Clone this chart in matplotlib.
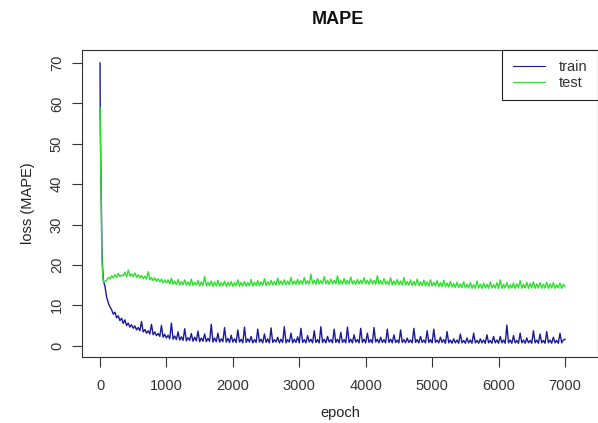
import numpy as np
import matplotlib
matplotlib.use("Agg")
from matplotlib import pyplot as plt

plt.rc('font', family=['Liberation Sans', 'DejaVu Sans'])

# epochs: dense at the start, then every 25 epochs
early_epochs = [1, 3, 6, 9, 12, 15, 18, 21, 25, 30, 40, 50, 60, 75]
train_early = [70, 58, 52, 49, 45, 41, 38, 33, 26, 23, 19, 16.5, 15.5, 14.7]
test_early = [59, 56, 50, 46, 42, 38, 34, 30, 25, 21, 17.5, 16.0, 15.6, 15.9]

late_epochs = np.arange(100, 7001, 25)
train_late = [
    12.0, 10.6, 9.6, 8.9, 7.8, 8.3, 6.9, 7.4, 6.2, 6.8, 5.5, 6.4, 5.0, 5.6, 4.6, 5.2, 4.3, 4.9, 3.9, 4.5,
    3.7, 6.0, 3.4, 4.0, 3.1, 3.7, 2.9, 5.3, 2.7, 3.4, 2.5, 3.0, 2.3, 5.0, 2.1, 2.8,
    1.9, 2.6, 1.7, 5.6, 1.6, 2.4, 1.5, 3.4, 1.4, 2.2, 1.3, 4.2, 1.2, 2.0, 1.3, 3.0, 1.1, 2.1, 1.2, 3.6,
    1.0, 1.9, 1.1, 2.9, 1.0, 1.8, 1.1, 5.3, 0.9, 1.9, 1.0, 3.1, 0.9, 1.7, 1.0, 4.5, 0.9, 1.8, 0.8, 2.6,
    0.9, 1.7, 0.8, 3.9, 0.9, 1.6, 0.7, 4.6, 0.8, 1.7, 0.9, 2.3, 0.7, 1.5, 0.8, 4.1, 0.9, 1.6, 0.7, 2.9,
    0.8, 1.7, 0.7, 4.4, 0.8, 1.5, 0.9, 2.1, 0.7, 1.6, 0.8, 4.7, 0.7, 1.5, 0.9, 3.1, 0.7, 1.6, 0.8, 2.2,
    0.7, 4.3, 0.8, 1.5, 0.7, 2.5, 0.9, 1.6, 0.7, 3.7, 0.8, 1.5, 0.7, 4.7, 0.8, 1.6, 0.7, 2.3, 0.9, 1.5,
    0.7, 4.1, 0.8, 1.6, 0.7, 3.3, 0.8, 1.5, 0.7, 4.6, 0.8, 1.6, 0.7, 2.7, 0.9, 1.5, 0.7, 4.3, 0.8, 1.6,
    0.7, 3.1, 0.8, 1.5, 0.7, 4.5, 0.9, 1.6, 0.7, 2.1, 0.8, 1.5, 0.7, 4.1, 0.8, 1.6, 0.7, 2.7, 0.8, 1.4,
    0.7, 3.9, 0.8, 1.5, 0.7, 1.9, 0.8, 1.4, 0.7, 4.3, 0.8, 1.5, 0.7, 2.3, 0.8, 1.4, 0.7, 3.7, 0.8, 1.5,
    0.7, 4.1, 0.8, 1.4, 0.7, 2.1, 0.8, 1.5, 0.6, 3.5, 0.7, 1.4, 0.6, 1.7, 0.7, 1.4, 0.6, 2.9, 0.7, 1.3,
    0.6, 1.9, 0.7, 1.4, 0.6, 3.1, 0.7, 1.3, 0.6, 1.7, 0.7, 1.4, 0.6, 2.7, 0.7, 1.3, 0.6, 2.3, 0.7, 1.4,
    0.6, 2.3, 0.7, 1.4, 0.6, 5.1, 0.7, 1.4, 0.6, 2.5, 0.7, 1.3, 0.6, 3.1, 0.7, 1.4, 0.6, 1.9, 0.7, 1.3,
    0.6, 3.7, 0.7, 1.4, 0.6, 2.9, 0.7, 1.3, 0.6, 3.5, 0.7, 1.4, 0.6, 2.1, 0.7, 1.3, 0.6, 3.1, 0.7, 1.4,
    1.6]
test_late = [
    16.2, 16.9, 16.5, 17.3, 16.8, 17.6, 16.9, 17.9, 17.1, 17.5, 17.3, 18.2, 17.0, 18.7, 17.2, 17.8, 17.1, 18.0, 16.9, 17.6,
    16.8, 17.4, 16.6, 17.2, 16.5, 18.3, 16.3, 16.9, 16.1, 16.8, 15.9, 16.6, 15.8, 16.5, 15.6, 16.3,
    15.5, 16.3, 15.3, 16.7, 15.2, 16.0, 15.1, 16.4, 15.0, 15.9, 15.1, 16.3, 15.0, 15.8, 14.9, 16.5, 14.9, 15.7, 15.0, 16.1,
    14.8, 15.8, 14.9, 17.1, 14.8, 15.7, 14.8, 16.0, 14.7, 15.8, 14.8, 16.2, 14.7, 15.6, 14.8, 16.0, 14.7, 15.7, 14.8, 15.9,
    14.7, 15.6, 14.8, 16.3, 14.7, 15.7, 14.8, 15.9, 14.7, 15.6, 14.8, 16.4, 14.8, 15.7, 14.9, 16.1, 14.8, 15.8, 14.9, 16.6,
    14.9, 15.8, 15.0, 16.2, 15.0, 15.9, 15.0, 16.7, 15.1, 16.0, 15.1, 16.3, 15.1, 16.0, 15.1, 16.9, 15.2, 16.0, 15.2, 16.4,
    15.2, 16.1, 15.2, 16.9, 15.3, 16.1, 15.2, 17.7, 15.3, 16.2, 15.2, 16.6, 15.3, 16.1, 15.3, 17.1, 15.3, 16.2, 15.2, 16.5,
    15.3, 16.2, 15.3, 17.3, 15.2, 16.1, 15.3, 16.6, 15.2, 16.2, 15.3, 17.0, 15.3, 16.1, 15.2, 16.4, 15.3, 16.2, 15.3, 16.8,
    15.3, 16.2, 15.2, 16.5, 15.3, 16.2, 15.2, 17.3, 15.3, 16.1, 15.2, 16.6, 15.2, 16.0, 15.1, 16.8, 15.1, 16.0, 15.1, 16.4,
    15.1, 16.0, 15.0, 16.9, 15.0, 15.9, 15.0, 16.3, 14.9, 15.9, 14.9, 16.5, 14.9, 15.8, 14.9, 16.2, 14.8, 15.8, 14.8, 16.3,
    14.8, 15.7, 14.8, 16.1, 14.7, 15.6, 14.6, 16.2, 14.6, 15.5, 14.5, 15.9, 14.5, 15.4, 14.4, 15.7, 14.4, 15.3, 14.4, 15.8,
    14.3, 15.2, 14.3, 15.6, 14.2, 15.1, 14.2, 16.0, 14.3, 15.2, 14.2, 15.5, 14.3, 15.2, 14.2, 15.8, 14.3, 15.1, 14.3, 15.6,
    14.2, 16.3, 14.2, 15.2, 14.3, 15.6, 14.2, 15.1, 14.3, 15.5, 14.2, 15.3, 14.3, 16.1, 14.2, 15.2, 14.3, 15.7, 14.2, 15.4,
    14.3, 15.8, 14.2, 15.3, 14.3, 15.6, 14.2, 15.2, 14.3, 15.7, 14.2, 15.3, 14.3, 15.6, 14.2, 15.1, 14.3, 15.5, 14.2, 15.2,
    14.6]

epochs = np.concatenate([early_epochs, late_epochs])
train = np.concatenate([train_early, train_late])
test = np.concatenate([test_early, test_late])

x_ticks = [0, 1000, 2000, 3000, 4000, 5000, 6000, 7000]
y_ticks = [0, 10, 20, 30, 40, 50, 60, 70]

fig = plt.figure(figsize=(5.98, 4.23), dpi=100)
ax = fig.add_axes([82/598, 1-357/423, 1-82/598, (357-50)/423])

ax.plot(epochs, train, color="#1a1a99", lw=1.0, label="train")
ax.plot(epochs, test, color="#2ee02e", lw=1.0, label="test")

ax.set_xlim(-271, 7497)
ax.set_ylim(-2.8, 73.2)
ax.set_xticks(x_ticks)
ax.set_yticks(y_ticks)
ax.tick_params(direction='out', length=7, width=0.8, colors="#333333", labelsize=10.5)
ax.tick_params(axis='x', pad=9)
ax.tick_params(axis='y', pad=6)
for lab in ax.get_yticklabels():
    lab.set_rotation(90)
    lab.set_va('center')
for sp in ax.spines.values():
    sp.set_color("#333333")
    sp.set_linewidth(0.8)

ax.set_xlabel("epoch", fontsize=10.5, color="#222222", labelpad=9)
ax.set_ylabel("loss (MAPE)", fontsize=10.5, color="#222222", labelpad=11)
fig.text(0.565, 1-20/423, "MAPE", ha="center", va="center", fontsize=13,
         fontweight="bold", color="#111111")

leg = ax.legend(loc="upper right", fancybox=False, framealpha=1, borderaxespad=0.0,
                fontsize=10.5, handlelength=2.2, handletextpad=1.0, labelspacing=0.1,
                borderpad=0.7)
leg.get_frame().set_edgecolor("#222222")
leg.get_frame().set_linewidth(0.8)
for line in leg.get_lines():
    line.set_linewidth(0.8)
for t in leg.get_texts():
    t.set_color("#333333")

fig.savefig("out.png", dpi=100)
